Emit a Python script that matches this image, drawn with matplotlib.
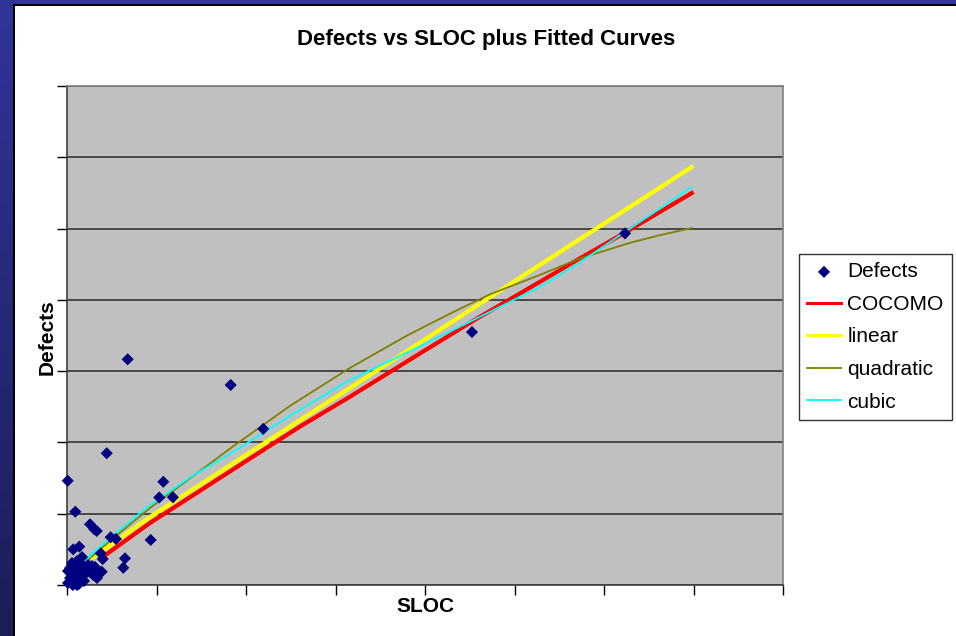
import numpy as np
import matplotlib
matplotlib.use("Agg")
import matplotlib.pyplot as plt
from matplotlib.patches import Rectangle
from matplotlib.colors import LinearSegmentedColormap

plt.rcParams['font.family'] = ['Liberation Sans', 'DejaVu Sans']

# ---- data (arbitrary units; axis has no tick labels) ----
defects_x = [6.78, 18.29, 21.93, 4.44, 0.08, 10.76, 10.31, 11.84, 0.93, 2.57,
             3.05, 3.32, 9.35, 4.88, 5.47, 0.70, 1.37, 6.48, 6.29, 3.77,
             3.99, 3.88, 2.94, 45.25, 62.35,
             0.11, 0.34, 0.56, 0.78, 1.00, 1.23, 1.34, 1.56, 1.79, 1.90,
             2.12, 2.35, 0.34, 0.56, 0.89, 0.11, 1.12, 1.45, 2.01, 2.57,
             3.13, 3.35, 0.67, 1.12, 2.79, 1.68]
defects_y = [158.3, 140.3, 109.5, 92.4, 73.1, 72.4, 61.4, 61.5, 51.4, 42.6,
             39.1, 37.9, 31.6, 33.5, 32.3, 25.0, 26.9, 18.7, 12.1, 22.2,
             18.2, 9.3, 7.0, 177.4, 246.6,
             1.4, 4.9, 0.7, 7.0, 3.5, 9.8, 0.7, 6.3, 11.9, 2.8,
             8.4, 14.0, 11.9, 15.4, 13.3, 9.8, 16.8, 15.4, 12.6, 9.1,
             12.6, 4.9, 0.0, 0.0, 13.3, 19.6]

cocomo_x = [4.13, 9.27, 14.0, 20.4, 26.0, 31.6, 40.0, 46.0, 52.8, 57.0, 62.3, 69.8]
cocomo_y = [20.3, 43.5, 62.6, 88.5, 111.0, 132.0, 164.6, 187.6, 212.5, 228.0, 247.0, 274.9]

linear_x = [2.8, 9.27, 31.6, 52.8, 69.8]
linear_y = [18.9, 47.7, 138.1, 224.4, 293.1]

quad_x = [1.79, 5.0, 9.27, 14.0, 18.5, 25.0, 31.6, 38.0, 43.0, 47.3, 52.8, 57.3, 62.9, 66.0, 69.8]
quad_y = [14.5, 32.0, 54.0, 76.0, 97.0, 126.0, 152.2, 175.0, 191.0, 204.0, 217.4, 229.0, 240.0, 245.0, 250.4]

cubic_x = [1.79, 5.0, 9.27, 14.0, 18.5, 25.0, 31.6, 38.0, 46.1, 52.8, 57.0, 62.3, 66.0, 69.8]
cubic_y = [16.1, 34.0, 56.1, 76.5, 93.0, 119.0, 143.8, 163.0, 188.0, 209.0, 225.0, 247.5, 263.0, 279.1]

title = "Defects vs SLOC plus Fitted Curves"
xlabel = "SLOC"
ylabel = "Defects"
legend_labels = ["Defects", "COCOMO", "linear", "quadratic", "cubic"]

# ---- figure ----
W, H = 956, 636
fig = plt.figure(figsize=(9.56, 6.36), dpi=100)

# slide background gradient
bg = fig.add_axes([0, 0, 1, 1], zorder=-10)
cmap = LinearSegmentedColormap.from_list("slide", ["#31349A", "#1D1D58"])
bg.imshow(np.linspace(0, 1, 256).reshape(-1, 1), aspect='auto', cmap=cmap,
          extent=[0, 1, 0, 1], origin='upper')
bg.set_xlim(0, 1); bg.set_ylim(0, 1); bg.axis('off')
bg.add_patch(Rectangle((13 / W, 0), 1 - 13 / W, 1 - 4 / H, facecolor='black',
                       edgecolor='none'))
bg.add_patch(Rectangle((15 / W, 0), 1 - 15 / W, 1 - 6 / H, facecolor='white',
                       edgecolor='none'))

ax = fig.add_axes([67 / W, 1 - 585 / H, (783 - 67) / W, (585 - 86) / H])
ax.set_facecolor('#C0C0C0')
ax.set_xlim(0, 80)
ax.set_ylim(0, 350)
ax.set_xticks(np.arange(0, 81, 10))
ax.set_yticks(np.arange(0, 351, 50))
ax.set_xticklabels([])
ax.set_yticklabels([])
ax.tick_params(direction='out', length=7, width=1, color='black')
ax.grid(axis='y', color='#333333', linewidth=1.2)
ax.set_axisbelow(True)
for s in ['top', 'right']:
    ax.spines[s].set_color('#808080')
    ax.spines[s].set_linewidth(1.2)
for s in ['left', 'bottom']:
    ax.spines[s].set_color('#404040')
    ax.spines[s].set_linewidth(1.2)

ax.plot(cocomo_x, cocomo_y, color='#FF0000', lw=3.0, label=legend_labels[1], zorder=3)
ax.plot(linear_x, linear_y, color='#FFFF00', lw=3.0, label=legend_labels[2], zorder=3)
ax.plot(quad_x, quad_y, color='#808000', lw=1.3, label=legend_labels[3], zorder=4)
ax.plot(cubic_x, cubic_y, color='#00FFFF', lw=1.3, label=legend_labels[4], zorder=4)
sc = ax.scatter(defects_x, defects_y, marker='D', s=38, color='#000080',
                edgecolors='none', label=legend_labels[0], zorder=5, clip_on=False)

fig.text(486 / W, 1 - 40 / H, title, fontsize=16, fontweight='bold',
         ha='center', va='center')
fig.text(425 / W, 1 - 607 / H, xlabel, fontsize=15, fontweight='bold',
         ha='center', va='center')
fig.text(47 / W, 1 - 337 / H, ylabel, fontsize=15, fontweight='bold',
         ha='center', va='center', rotation=90)

handles, labels = ax.get_legend_handles_labels()
order = [labels.index(l) for l in legend_labels]
leg = fig.legend([handles[i] for i in order], [labels[i] for i in order],
                 loc='upper left', bbox_to_anchor=(799 / W, 1 - 254 / H),
                 frameon=True, fancybox=False, fontsize=15,
                 handlelength=1.6, handletextpad=0.32, labelspacing=0.65,
                 borderpad=0.4, borderaxespad=0)
leg.get_frame().set_edgecolor('black')
leg.get_frame().set_linewidth(1.0)
for line in leg.get_lines():
    line.set_linewidth(min(line.get_linewidth(), 2.2))

fig.savefig("out.png", dpi=100)
